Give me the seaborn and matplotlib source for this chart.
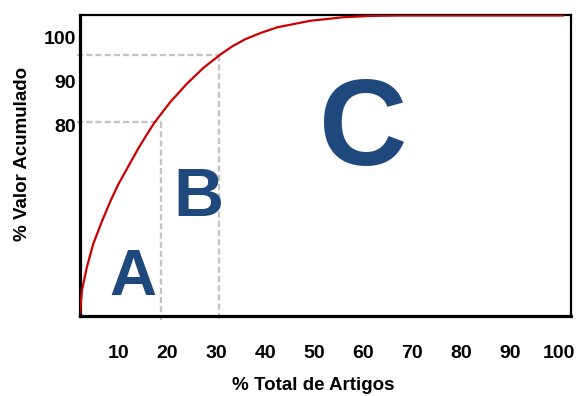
import matplotlib
matplotlib.use("Agg")
import matplotlib.pyplot as plt
import seaborn as sns

# curve (% artigos -> % valor acumulado)
pct_artigos = [2.2, 2.6, 3.6, 4.9, 6.7, 8.4, 10.0, 12.1, 14.1, 15.7, 17.3, 19.0,
               20.6, 24.0, 27.4, 30.8, 33.3, 35.9, 39.0, 42.4, 49.2, 55.9, 61.4,
               67.5, 100.8]
pct_valor = [37.3, 42.5, 47.7, 53.0, 58.2, 62.7, 66.5, 70.7, 74.7, 77.6, 80.4, 82.9,
             85.2, 89.4, 93.0, 96.0, 97.9, 99.5, 100.9, 102.2, 103.7, 104.5, 104.8,
             104.9, 104.9]

# class borders
cut_x = [18.8, 30.5]
cut_y = [80.7, 96.0]

x_ticks = [10, 20, 30, 40, 50, 60, 70, 80, 90, 100]
y_ticks = [80, 90, 100]
classes = ["A", "B", "C"]

sns.set_theme(style="white")
plt.rcParams["font.family"] = ["Liberation Sans", "DejaVu Sans"]

fig = plt.figure(figsize=(5.85, 3.96), dpi=100)
ax = fig.add_axes([0.1368, 0.202, 0.8393, 0.760])

# dashed guides
for cx, cy in zip(cut_x, cut_y):
    ax.plot([1.5, cx], [cy, cy], color="#c4c4c4", lw=1.7, ls=(0, (2.6, 1.3)),
            clip_on=False, zorder=1)
    ax.plot([cx, cx], [cy, 35.7], color="#c4c4c4", lw=1.7, ls=(0, (2.6, 1.3)),
            clip_on=False, zorder=1)

sns.lineplot(x=pct_artigos, y=pct_valor, color="#cc0000", lw=1.6, sort=False,
             ax=ax, zorder=3)

ax.set_xlim(2.2, 102.4)
ax.set_ylim(36.6, 105.0)
ax.set_xticks(x_ticks)
ax.set_yticks(y_ticks)
ax.set_xticklabels([str(t) for t in x_ticks], fontsize=14, fontweight="bold", color="black")
ax.set_yticklabels([str(t) for t in y_ticks], fontsize=14, fontweight="bold", color="black")
ax.tick_params(axis="x", length=0, pad=21)
ax.tick_params(axis="y", length=0, pad=3)

ax.set_xlabel("% Total de Artigos", fontsize=13.5, fontweight="bold", color="black")
ax.set_ylabel("% Valor Acumulado", fontsize=13.5, fontweight="bold", color="black")
ax.xaxis.set_label_coords(0.4756, -0.204)
ax.yaxis.set_label_coords(-0.100, 0.54)

for side in ["left", "bottom"]:
    ax.spines[side].set_linewidth(2.3)
    ax.spines[side].set_color("black")
for side in ["top", "right"]:
    ax.spines[side].set_linewidth(1.6)
    ax.spines[side].set_color("black")

# big class letters
blue = "#1f497d"
ax.text(13.0, 45.2, classes[0], fontsize=47, fontweight="bold", color=blue,
        ha="center", va="center")
ax.text(26.3, 63.5, classes[1], fontsize=50, fontweight="bold", color=blue,
        ha="center", va="center")
ax.text(60.0, 78.2, classes[2], fontsize=88, fontweight="bold", color=blue,
        ha="center", va="center")

fig.savefig("out.png", dpi=100)
